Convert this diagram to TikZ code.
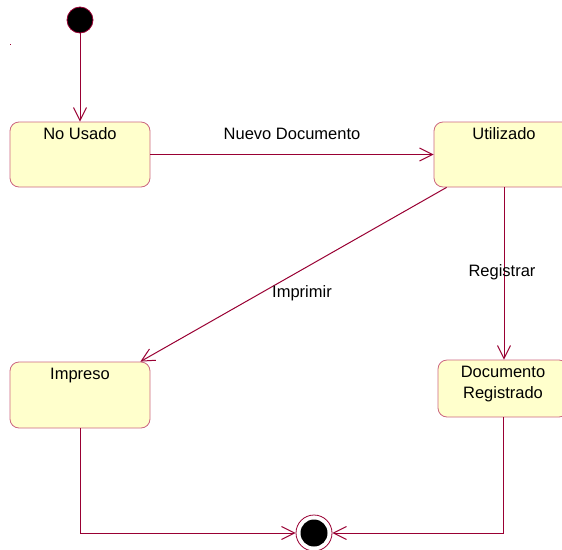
\documentclass[tikz,border=0pt]{standalone}
\usepackage{fontspec}
\setmainfont{Liberation Sans}
\usetikzlibrary{arrows.meta}
\definecolor{wire}{RGB}{153,0,51}
\definecolor{stateedge}{RGB}{204,102,128}
\definecolor{statefill}{RGB}{255,255,204}
\tikzset{
  x=1pt, y=-1pt,
  every node/.style={font=\fontsize{16.5}{21}\selectfont},
  statebox/.style={draw=stateedge, fill=statefill, line width=0.8pt,
    rounded corners=9pt, minimum width=#1, inner sep=0pt},
  statebox/.default=140pt,
  statename/.style={anchor=north, align=center, inner sep=0pt, yshift=-6pt},
  flow/.style={draw=wire, line width=1pt,
    -{Straight Barb[length=13pt,width=13pt,line width=1pt]}},
  tag/.style={inner sep=1pt},
}
\begin{document}
\begin{tikzpicture}
  \useasboundingbox (0,0) rectangle (562,549);
  \clip (0,0) rectangle (562,549);

  % pseudo-states
  \node (start) [circle, fill=black, draw=wire, line width=0.8pt,
    minimum size=26pt, inner sep=0pt] at (80,20) {};
  \node (final) [circle, draw=wire, fill=white, line width=0.8pt,
    minimum size=36pt, inner sep=0pt] at (314,533) {};
  \fill[black] (final.center) circle[radius=13.5pt];
  \fill[wire] (9.5,43.5) rectangle (11,45);

  % states
  \node (nousado) [statebox, minimum height=65pt] at (80,154.5) {};
  \node[statename] (nousadoname) at (nousado.north) {No Usado};

  \node (util) [statebox, minimum height=65pt] at (504,154.5) {};
  \node[statename] (utilname) at (util.north) {Utilizado};

  \node (impreso) [statebox, minimum height=66pt] at (80,395) {};
  \node[statename] (impresoname) at (impreso.north) {Impreso};

  \node (docreg) [statebox=130pt, minimum height=57pt] at (503,388.5) {};
  \node[statename] (docregname) at (docreg.north) {Documento\\Registrado};

  % transitions
  \draw[flow] (start) -- (nousado.north);
  \draw[flow] (nousado.east) -- (util.west);
  \draw[flow] ([xshift=13pt]util.south west) -- ([xshift=-10pt]impreso.north east);
  \draw[flow] (util.south) -- (util.south |- docreg.north);
  \draw[flow] (impreso.south) |- (final.west);
  \draw[flow] (docreg.south) |- (final.east);

  % transition labels
  \node[tag] (lblnuevo) at (292,134) {Nuevo Documento};
  \node[tag] (lblimprimir) at (302,293) {Imprimir};
  \node[tag] (lblregistrar) at (502,272) {Registrar};
\end{tikzpicture}
\end{document}
